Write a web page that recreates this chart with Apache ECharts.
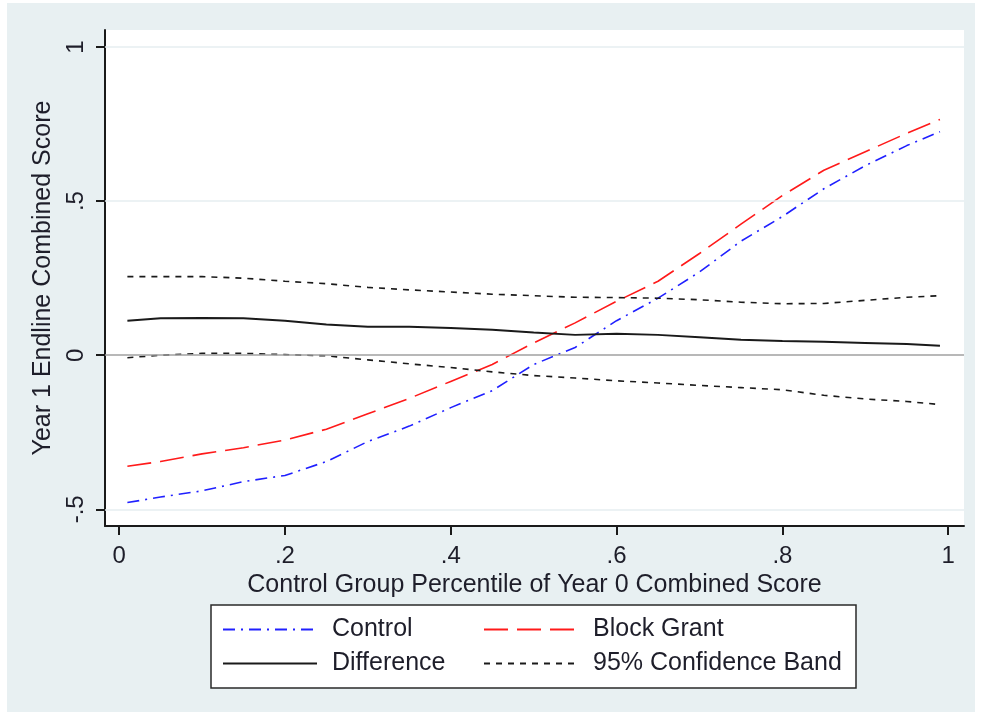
<!DOCTYPE html>
<html>
<head>
<meta charset="utf-8">
<script src="https://cdn.jsdelivr.net/npm/echarts@6/dist/echarts.min.js"></script>
<style>
  html, body { margin: 0; padding: 0; background: #ffffff; }
  #bg { position: absolute; left: 7px; top: 3px; width: 968px; height: 709px; background: #E8F0F2; }
  #chart { position: absolute; left: 0; top: 0; width: 981px; height: 717px; }
</style>
</head>
<body>
<div id="bg"></div>
<div id="chart"></div>
<script>
// Control group percentile (x)
const percentiles = [0.01, 0.05, 0.10, 0.15, 0.20, 0.25, 0.30, 0.35, 0.40, 0.45, 0.50,
                     0.55, 0.60, 0.65, 0.70, 0.75, 0.80, 0.85, 0.90, 0.95, 0.99];
const controlVals = [-0.478, -0.46, -0.44, -0.41, -0.39, -0.345, -0.28, -0.23, -0.17, -0.115, -0.03,
                     0.025, 0.112, 0.185, 0.27, 0.37, 0.45, 0.54, 0.615, 0.68, 0.725];
const blockGrantVals = [-0.36, -0.345, -0.32, -0.30, -0.275, -0.24, -0.19, -0.14, -0.085, -0.03, 0.04,
                        0.105, 0.175, 0.24, 0.33, 0.425, 0.518, 0.60, 0.66, 0.72, 0.765];
const differenceVals = [0.112, 0.12, 0.121, 0.12, 0.112, 0.10, 0.092, 0.092, 0.088, 0.083, 0.074,
                        0.066, 0.07, 0.066, 0.058, 0.05, 0.046, 0.044, 0.04, 0.036, 0.031];
const upperBandVals = [0.255, 0.255, 0.255, 0.25, 0.24, 0.232, 0.22, 0.212, 0.205, 0.198, 0.193,
                       0.188, 0.187, 0.185, 0.18, 0.172, 0.167, 0.168, 0.178, 0.188, 0.193];
const lowerBandVals = [-0.008, 0.0, 0.006, 0.006, 0.002, -0.002, -0.015, -0.028, -0.04, -0.054, -0.066,
                       -0.074, -0.083, -0.09, -0.098, -0.105, -0.112, -0.13, -0.142, -0.15, -0.16];
const xTicks = [0, 0.2, 0.4, 0.6, 0.8, 1];
const yTicks = [-0.5, 0, 0.5, 1];
const xTickLabels = ['0', '.2', '.4', '.6', '.8', '1'];
const yTickLabels = ['-.5', '0', '.5', '1'];
const yGridLines = [-0.5, 0.5, 1];

const pairs = vals => percentiles.map((x, i) => [x, vals[i]]);
const FONT = 'Liberation Sans, Arial, sans-serif';
const TXT = '#1e1e2a';

const chart = echarts.init(document.getElementById('chart'), null, { renderer: 'canvas' });

const legendCommon = {
  left: 222,
  orient: 'horizontal',
  itemWidth: 94,
  itemHeight: 14,
  itemGap: 11,
  padding: 0,
  selectedMode: false,
  itemStyle: { opacity: 0, color: 'transparent', borderWidth: 0 },
  textStyle: { fontFamily: FONT, fontSize: 25, color: TXT, width: 140, lineHeight: 24, padding: [0, 0, 0, 10] }
};

const option = {
  animation: false,
  backgroundColor: 'transparent',
  graphic: [{
    type: 'rect',
    shape: { x: 211, y: 605, width: 645, height: 83 },
    style: { fill: '#ffffff', stroke: '#2a2a2a', lineWidth: 1.5 },
    z: 1, silent: true
  }],
  legend: [
    Object.assign({}, legendCommon, { top: 617, data: ['Control', 'Block Grant'] }),
    Object.assign({}, legendCommon, { top: 651, data: ['Difference', '95% Confidence Band'] })
  ],
  grid: {
    left: 105, right: 17, top: 30, bottom: 191,
    show: true, backgroundColor: '#ffffff', borderWidth: 0
  },
  xAxis: {
    type: 'value', min: -0.017, max: 1.019,
    name: 'Control Group Percentile of Year 0 Combined Score',
    nameLocation: 'middle', nameGap: 37,
    nameTextStyle: { fontFamily: FONT, fontSize: 25, color: TXT },
    axisLine: { show: true, onZero: false, lineStyle: { color: '#1a1a1a', width: 2 } },
    axisTick: { show: true, length: 9, customValues: xTicks, lineStyle: { color: '#1a1a1a', width: 2 } },
    axisLabel: {
      customValues: xTicks, margin: 18, fontFamily: FONT, fontSize: 24, color: TXT,
      formatter: v => xTickLabels[xTicks.findIndex(t => Math.abs(t - v) < 1e-9)] ?? ''
    },
    splitLine: { show: false }
  },
  yAxis: {
    type: 'value', min: -0.554, max: 1.055,
    name: 'Year 1 Endline Combined Score',
    nameLocation: 'middle', nameGap: 44, nameRotate: 90,
    nameTextStyle: { fontFamily: FONT, fontSize: 25, color: TXT },
    axisLine: { show: true, onZero: false, lineStyle: { color: '#1a1a1a', width: 2 } },
    axisTick: { show: true, length: 9, customValues: yTicks, lineStyle: { color: '#1a1a1a', width: 2 } },
    axisLabel: {
      customValues: yTicks, margin: 17, rotate: 90, fontFamily: FONT, fontSize: 24, color: TXT,
      formatter: v => yTickLabels[yTicks.findIndex(t => Math.abs(t - v) < 1e-9)] ?? ''
    },
    splitLine: { show: false }
  },
  series: [
    {
      name: 'Control', type: 'line', data: pairs(controlVals), symbol: 'none', z: 3,
      lineStyle: { color: '#2020ff', width: 1.6, type: [12, 6, 2, 6] },
      itemStyle: { color: '#2020ff' }
    },
    {
      name: 'Block Grant', type: 'line', data: pairs(blockGrantVals), symbol: 'none', z: 3,
      lineStyle: { color: '#ff1a1a', width: 1.6, type: [24, 9] },
      itemStyle: { color: '#ff1a1a' }
    },
    {
      name: 'Difference', type: 'line', data: pairs(differenceVals), symbol: 'none', z: 3,
      lineStyle: { color: '#1a1a1a', width: 2, type: 'solid' },
      itemStyle: { color: '#1a1a1a' },
      markLine: {
        silent: true, symbol: ['none', 'none'], label: { show: false }, animation: false,
        data: yGridLines.map(v => ({ yAxis: v, lineStyle: { color: '#E6EEF0', width: 1.5, type: 'solid' } }))
          .concat([{ yAxis: 0, lineStyle: { color: '#a0a0a0', width: 1.5, type: 'solid' } }])
      }
    },
    {
      name: '95% Confidence Band', type: 'line', data: pairs(upperBandVals), symbol: 'none', z: 3,
      lineStyle: { color: '#1a1a1a', width: 1.6, type: [6, 6] },
      itemStyle: { color: '#1a1a1a' }
    },
    {
      name: '95% Confidence Band', type: 'line', data: pairs(lowerBandVals), symbol: 'none', z: 3,
      lineStyle: { color: '#1a1a1a', width: 1.6, type: [6, 6] },
      itemStyle: { color: '#1a1a1a' }
    }
  ]
};
chart.setOption(option);
</script>
</body>
</html>
